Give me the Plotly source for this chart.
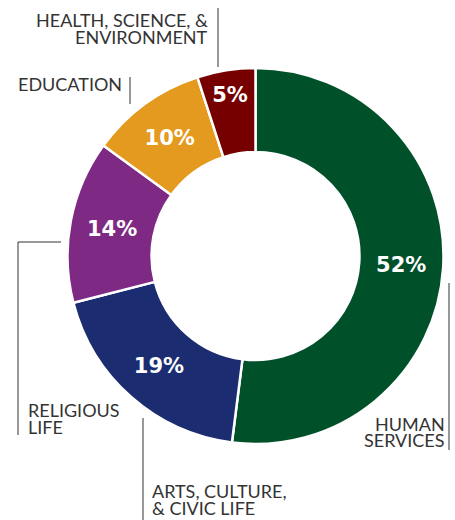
import plotly.graph_objects as go

W, H = 455, 520

categories = ["HUMAN SERVICES", "ARTS, CULTURE, & CIVIC LIFE", "RELIGIOUS LIFE",
              "EDUCATION", "HEALTH, SCIENCE, & ENVIRONMENT"]
values = [52, 19, 14, 10, 5]
colors = ["#00502A", "#1B2D70", "#7E2983", "#E39A1E", "#760000"]

def px(x):
    return x / W

def py(y):
    return 1 - y / H

cx, cy, r = 255.5, 256, 188

fig = go.Figure(go.Pie(
    labels=categories,
    values=values,
    sort=False,
    direction="clockwise",
    rotation=0,
    hole=0.553,
    marker=dict(colors=colors, line=dict(color="white", width=2.5)),
    texttemplate="%{value}%",
    textposition="inside",
    insidetextorientation="horizontal",
    textfont=dict(family="DejaVu Sans", size=21, color="white", weight="bold"),
    hoverinfo="label+value",
    showlegend=False,
    domain=dict(x=[px(cx - r), px(cx + r)], y=[py(cy + r), py(cy - r)]),
))

label_font = dict(family="Lato", size=18, color="#333333")
# (text line, x, y-center, anchor)
label_lines = [
    ("HEALTH, SCIENCE, &", 210, 20, "right"),
    ("ENVIRONMENT", 210, 37, "right"),
    ("EDUCATION", 124, 84, "right"),
    ("RELIGIOUS", 26, 410, "left"),
    ("LIFE", 26, 427, "left"),
    ("ARTS, CULTURE,", 150, 491, "left"),
    ("& CIVIC LIFE", 150, 508, "left"),
    ("HUMAN", 447, 424, "right"),
    ("SERVICES", 447, 440, "right"),
]
annotations = [
    dict(text=t, x=px(x), y=py(y), xanchor=a, yanchor="middle", xref="paper", yref="paper",
         showarrow=False, font=label_font)
    for t, x, y, a in label_lines
]

line = dict(color="#333333", width=1)
segments = [
    (218, 8, 218, 67),
    (130, 77, 130, 104),
    (18, 242, 61, 242),
    (18, 242, 18, 435),
    (143, 418, 143, 520),
    (449, 283, 449, 450),
]
shapes = [dict(type="line", xref="paper", yref="paper", x0=px(a), y0=py(b), x1=px(c), y1=py(d), line=line)
          for a, b, c, d in segments]

fig.update_layout(
    width=W, height=H,
    margin=dict(l=0, r=0, t=0, b=0),
    paper_bgcolor="white", plot_bgcolor="white",
    annotations=annotations,
    shapes=shapes,
)

fig.write_html("out.html")
